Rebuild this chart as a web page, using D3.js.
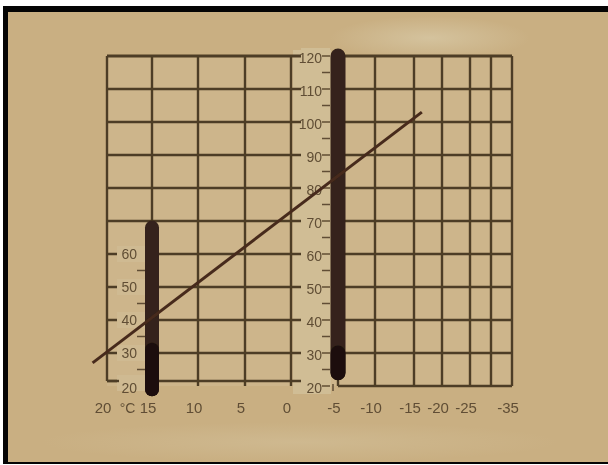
<!DOCTYPE html>
<html>
<head>
<meta charset="utf-8">
<script src="https://cdn.jsdelivr.net/npm/d3@7"></script>
<style>
  html, body { margin: 0; padding: 0; background: #fff; }
  svg { display: block; }
</style>
</head>
<body>
<svg id="chart" width="608" height="465"></svg>
<script>
// temperature axis (°C), nonlinear on the cold side
var temps = [20, 15, 10, 5, 0, -5, -10, -15, -20, -25, -30, -35];
var tempLabels = [20, 15, 10, 5, 0, -5, -10, -15, -20, -25, -35];
var leftGridTemps = [20, 15, 10, 5, 0];
var rightGridTemps = [-5, -10, -15, -20, -25, -30, -35];

// vertical scale values
var levels = [20, 30, 40, 50, 60, 70, 80, 90, 100, 110, 120];
var leftScale = [20, 30, 40, 50, 60];
var leftMinor = [25, 35, 45, 55];
var midScale = [20, 30, 40, 50, 60, 70, 80, 90, 100, 110, 120];
var midMinor = [25, 35, 45, 55, 65, 75, 85, 95, 105, 115];

// the two bars (temperature, from value, to value)
var leftBar = { t: 15, from: 19, to: 68, dark: 31 };
var midBar = { t: -5, from: 24, to: 120, dark: 30 };

// reading line end points [temperature, value]
var readLine = [[21.6, 27], [-16.4, 103]];

var svg = d3.select("#chart");
var W = 608, H = 465;

// photo frame
svg.append("rect").attr("x", 0).attr("y", 0).attr("width", W).attr("height", H).style("fill", "#ffffff");
svg.append("rect").attr("x", 3).attr("y", 6).attr("width", W - 3).attr("height", 458).style("fill", "#050505");
svg.append("rect").attr("x", 8).attr("y", 12).attr("width", W - 8).attr("height", 450).style("fill", "#c9af82");

var defs = svg.append("defs");
var blur = defs.append("filter").attr("id", "soft").attr("x", "-5%").attr("y", "-5%").attr("width", "110%").attr("height", "110%");
blur.append("feGaussianBlur").attr("stdDeviation", 0.7);
var blur2 = defs.append("filter").attr("id", "shadow").attr("x", "-10%").attr("y", "-100%").attr("width", "120%").attr("height", "300%");
blur2.append("feGaussianBlur").attr("stdDeviation", 2);
var glow = defs.append("radialGradient").attr("id", "glare");
glow.append("stop").attr("offset", "0%").style("stop-color", "#d9cba9").style("stop-opacity", 0.7);
glow.append("stop").attr("offset", "100%").style("stop-color", "#d9cba9").style("stop-opacity", 0);

svg.append("ellipse").attr("cx", 430).attr("cy", 38).attr("rx", 100).attr("ry", 22).style("fill", "url(#glare)");
svg.append("ellipse").attr("cx", 300).attr("cy", 442).attr("rx", 260).attr("ry", 20).style("fill", "url(#glare)").style("opacity", 0.5);

var x = d3.scaleLinear()
  .domain(temps)
  .range([107, 152, 198, 245, 291, 338, 375, 414, 442, 470, 491, 512]);
var y = d3.scaleLinear().domain([20, 120]).range([386, 56]);

// soft dark edge of the printed sheet along the top
svg.append("line")
  .attr("x1", x(20) - 4).attr("x2", x(-35) + 6)
  .attr("y1", y(120) - 2).attr("y2", y(120) - 2)
  .style("stroke", "#6b5738").style("stroke-width", 5)
  .attr("filter", "url(#shadow)");

var g = svg.append("g").attr("filter", "url(#soft)");

var gridColor = "#4e3d25";
var textColor = "#604e35";
var stripColor = "#d0bd95";
var font = '"Liberation Sans", Arial, sans-serif';

// paper tint of the grid areas
g.append("rect")
  .attr("x", x(20)).attr("y", y(120))
  .attr("width", x(-35) - x(20)).attr("height", y(20) - y(120))
  .style("fill", "#cdb58b");
// slightly lighter column holding the middle scale
g.append("rect")
  .attr("x", x(0) + 2).attr("y", y(120) - 6)
  .attr("width", x(-5) - x(0) - 9).attr("height", y(20) - y(120) + 14)
  .style("fill", stripColor);

// left grid
g.selectAll(".lv").data(leftGridTemps).enter().append("line")
  .attr("x1", function (d) { return x(d); })
  .attr("x2", function (d) { return x(d); })
  .attr("y1", y(120))
  .attr("y2", function (d) { return d === 20 ? y(20) - 5 : y(20); })
  .style("stroke", gridColor).style("stroke-width", 2.4);

g.selectAll(".lh").data(levels).enter().append("line")
  .attr("x1", x(20))
  .attr("x2", x(0) + 10)
  .attr("y1", function (d) { return y(d) - (d === 20 ? 5 : 0); })
  .attr("y2", function (d) { return y(d) - (d === 20 ? 5 : 0); })
  .style("stroke", gridColor).style("stroke-width", function (d) { return d === 120 ? 3 : 2.4; });

// right grid
g.selectAll(".rv").data(rightGridTemps).enter().append("line")
  .attr("x1", function (d) { return x(d); })
  .attr("x2", function (d) { return x(d); })
  .attr("y1", y(120))
  .attr("y2", y(20))
  .style("stroke", gridColor).style("stroke-width", 2.4);

g.selectAll(".rh").data(levels).enter().append("line")
  .attr("x1", x(-5))
  .attr("x2", x(-35))
  .attr("y1", function (d) { return y(d); })
  .attr("y2", function (d) { return y(d); })
  .style("stroke", gridColor).style("stroke-width", function (d) { return d === 120 ? 3 : 2.4; });

// left scale: labels with paper background, minor ticks
var leftLab = g.selectAll(".ll").data(leftScale).enter().append("g");
leftLab.append("rect")
  .attr("x", x(20) + 10).attr("width", 28)
  .attr("y", function (d) { return y(d) - 8 - (d === 20 ? 3 : 0); })
  .attr("height", 16)
  .style("fill", "#cfba92");
leftLab.append("text")
  .attr("x", x(20) + 30)
  .attr("y", function (d) { return y(d) + (d === 20 ? 2 : 0); })
  .attr("dy", "0.36em")
  .style("text-anchor", "end")
  .style("font-size", "14px")
  .style("font-family", font)
  .style("fill", textColor)
  .text(function (d) { return d; });
g.selectAll(".lm").data(leftMinor).enter().append("line")
  .attr("x1", x(15) - 15).attr("x2", x(15) - 7)
  .attr("y1", function (d) { return y(d); })
  .attr("y2", function (d) { return y(d); })
  .style("stroke", textColor).style("stroke-width", 1.5);
// left corner tick
g.append("line")
  .attr("x1", x(20)).attr("x2", x(20) + 12)
  .attr("y1", y(20) - 5).attr("y2", y(20) - 5)
  .style("stroke", gridColor).style("stroke-width", 2.4);

// middle scale
var midLab = g.selectAll(".ml").data(midScale).enter().append("g");
midLab.append("rect")
  .attr("x", x(0) + 10).attr("width", 29)
  .attr("y", function (d) { return y(d) - 8; })
  .attr("height", 16)
  .style("fill", stripColor);
midLab.append("text")
  .attr("x", x(-5) - 16)
  .attr("y", function (d) { return y(d) + 2; })
  .attr("dy", "0.36em")
  .style("text-anchor", "end")
  .style("font-size", "14px")
  .style("font-family", font)
  .style("fill", textColor)
  .text(function (d) { return d; });
g.selectAll(".mt").data(midScale.concat(midMinor)).enter().append("line")
  .attr("x1", x(-5) - 16).attr("x2", x(-5) - 8)
  .attr("y1", function (d) { return y(d); })
  .attr("y2", function (d) { return y(d); })
  .style("stroke", textColor).style("stroke-width", 1.5);
g.append("line")
  .attr("x1", x(-5) - 5).attr("x2", x(-5) - 5)
  .attr("y1", y(20) - 2).attr("y2", y(20) + 5)
  .style("stroke", textColor).style("stroke-width", 1.5);

// bottom temperature labels
g.selectAll(".tl").data(tempLabels).enter().append("text")
  .attr("x", function (d) { return x(d) - 4; })
  .attr("y", 408)
  .attr("dy", "0.36em")
  .style("text-anchor", "middle")
  .style("font-size", "15px")
  .style("font-family", font)
  .style("fill", textColor)
  .text(function (d) { return d < 0 ? "-" + Math.abs(d) : d; });
g.append("text")
  .attr("x", (x(20) + x(15)) / 2 - 2)
  .attr("y", 408)
  .attr("dy", "0.36em")
  .style("text-anchor", "middle")
  .style("font-size", "14px")
  .style("font-family", font)
  .style("fill", textColor)
  .text("°C");

// bars
function drawBar(b, w) {
  g.append("line")
    .attr("x1", x(b.t)).attr("x2", x(b.t))
    .attr("y1", y(b.to)).attr("y2", y(b.from))
    .style("stroke", "#34231a").style("stroke-width", w)
    .style("stroke-linecap", "round");
  g.append("line")
    .attr("x1", x(b.t)).attr("x2", x(b.t))
    .attr("y1", y(b.dark)).attr("y2", y(b.from))
    .style("stroke", "#1a0f0a").style("stroke-width", w)
    .style("stroke-linecap", "round");
}
drawBar(leftBar, 14);
drawBar(midBar, 15);

// reading line
g.append("path")
  .datum(readLine)
  .attr("d", d3.line()
    .x(function (d) { return x(d[0]); })
    .y(function (d) { return y(d[1]); }))
  .style("fill", "none")
  .style("stroke", "#472a1b")
  .style("stroke-width", 3);
</script>
</body>
</html>
